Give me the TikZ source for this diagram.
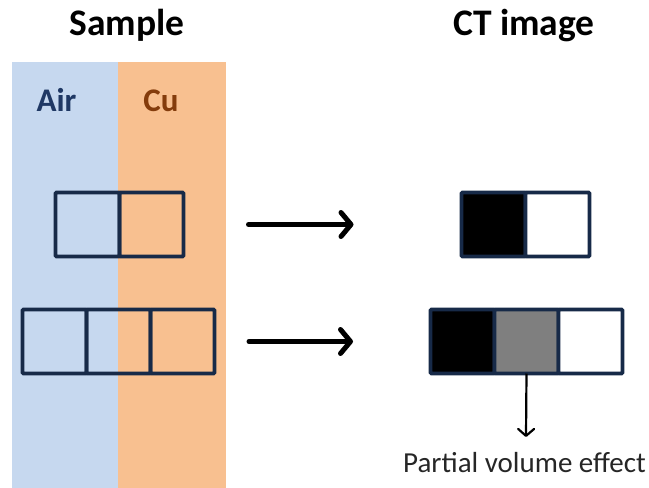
\documentclass[tikz,border=0pt]{standalone}
\usepackage{fontspec}
\setmainfont{Carlito}
\usetikzlibrary{arrows.meta, positioning}
\definecolor{airblue}{HTML}{C6D8EF}
\definecolor{cuorange}{HTML}{F8C090}
\definecolor{boxnavy}{HTML}{172A48}
\definecolor{airtext}{HTML}{1F3864}
\definecolor{cutext}{HTML}{843C0C}
\definecolor{pvgray}{HTML}{7F7F7F}

\begin{document}
\begin{tikzpicture}[
    x=1pt, y=-1pt,
    node distance=0pt,
    cell/.style={rectangle, draw=boxnavy, line width=3.6pt, rounded corners=1pt, outer sep=0pt, inner sep=0pt, minimum width=64pt, minimum height=64pt},
    title/.style={font=\fontsize{37.5}{45}\selectfont\bfseries, anchor=base},
    region/.style={font=\fontsize{33}{40}\selectfont\bfseries, anchor=base},
    arrow/.style={-{Straight Barb[length=10pt, width=24pt, round]}, line width=5pt, line cap=round},
]
\useasboundingbox (0,0) rectangle (649,488);

% Sample background (air | copper)
\fill[airblue] (12,62) rectangle (118,488);
\fill[cuorange] (118,62) rectangle (226,488);

% Titles
\node[title] (sample) at (127,35) {Sample};
\node[title] (ct) at (524,35) {CT image};
\node[region, text=airtext] (air) at (56.5,111.5) {Air};
\node[region, text=cutext] (cu) at (161,111.5) {Cu};

% Sample voxels
\node[cell] (sA1) at (87.5,224.5) {};
\node[cell, right=of sA1] (sA2) {};
\node[cell] (sB1) at (54.5,341.5) {};
\node[cell, right=of sB1] (sB2) {};
\node[cell, right=of sB2] (sB3) {};

% CT voxels
\node[cell, fill=black] (cA1) at (493.5,224.5) {};
\node[cell, fill=white, right=of cA1] (cA2) {};
\node[cell, fill=black] (cB1) at (462.5,341.5) {};
\node[cell, fill=pvgray, right=of cB1] (cB2) {};
\node[cell, fill=white, right=of cB2] (cB3) {};

% Imaging arrows
\draw[arrow, shorten <=65pt, shorten >=108pt] (sA2.east) -- (cA1.west);
\draw[arrow, shorten <=34.5pt, shorten >=77.5pt] (sB3.east) -- (cB1.west);

% Partial volume effect
\node[font=\fontsize{29}{35}\selectfont, text=black!85, anchor=base] (pve) at (524.5,472.5) {Partial volume effect};
\coordinate (pvtip) at (526,437);
\draw[-{Straight Barb[length=7pt, width=16pt, round]}, line width=2.2pt] (cB2.south) -- (pvtip);

\end{tikzpicture}
\end{document}
